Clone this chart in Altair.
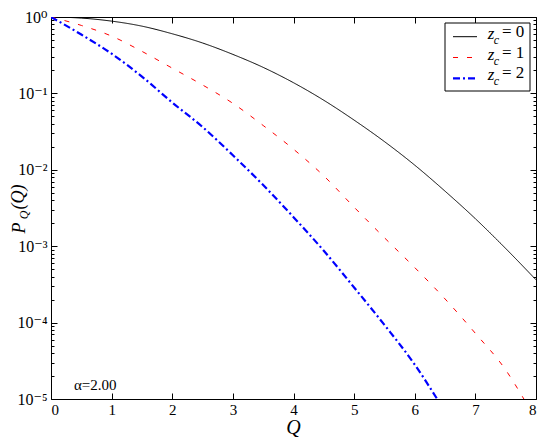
import altair as alt
import pandas as pd

# P_Q(Q), one pair of lists per curve
q_z0 = [0, 0.5, 1, 1.5, 2, 2.5, 3, 3.5, 4, 4.5, 5, 5.5, 6, 6.5, 7, 7.5, 8]
p_z0 = [1.0, 0.968, 0.883, 0.759, 0.603, 0.457, 0.324, 0.219, 0.138, 0.0813,
        0.0447, 0.0234, 0.0115, 0.00525, 0.00229, 0.000933, 0.000363]

q_z1 = [0, 0.5, 1, 1.5, 2, 2.5, 3, 3.5, 4, 4.5, 5, 5.5, 6, 6.5, 7, 7.5, 7.8]
p_z1 = [1.0, 0.776, 0.562, 0.355, 0.214, 0.129, 0.0741, 0.0380, 0.0186, 0.00832,
        0.00324, 0.00129, 0.000525, 0.000204, 0.0000724, 0.0000240, 0.0000100]

q_z2 = [0, 0.5, 1, 1.5, 2, 2.5, 3, 3.5, 4, 4.5, 5, 5.5, 6, 6.37]
p_z2 = [1.0, 0.589, 0.331, 0.166, 0.0759, 0.0363, 0.0155, 0.00631, 0.00240,
        0.000871, 0.000288, 0.0000933, 0.0000282, 0.0000100]

zc_values = ["0", "1", "2"]
series = ["z_c = 0", "z_c = 1", "z_c = 2"]
colors = ["#000000", "#ff0000", "#0000ff"]
dashes = [[1, 0], [5, 9], [7, 3, 2, 3]]
widths = [1, 1, 2.2]

x_ticks = [0, 1, 2, 3, 4, 5, 6, 7, 8]
y_ticks = [1e-5, 1e-4, 1e-3, 1e-2, 1e-1, 1]
y_minor = [k * 10.0 ** -d for d in range(1, 6) for k in range(2, 10)]
alpha_label = "\u03b1=2.00"

frames = []
for name, qs, ps in [(series[0], q_z0, p_z0), (series[1], q_z1, p_z1), (series[2], q_z2, p_z2)]:
    frames.append(pd.DataFrame({"q": qs, "p": ps, "series": name}))
df = pd.concat(frames, ignore_index=True)

W, H = 485, 382
SERIF = "Liberation Serif, Times New Roman, DejaVu Serif, serif"

xs = alt.Scale(domain=[0, 8], nice=False, zero=False)
ys = alt.Scale(type="log", domain=[1e-5, 1], nice=False)

sup_expr = ("'10' + ['\u2070','\u207b\u00b9','\u207b\u00b2','\u207b\u00b3','\u207b\u2074','\u207b\u2075']"
            "[round(-log(datum.value)/LN10)]")

main_x = alt.Axis(values=x_ticks, format="d", ticks=False, domain=False, grid=False,
                  labelFont=SERIF, labelFontSize=15, labelColor="black", labelPadding=3,
                  title=None)
main_y = alt.Axis(values=y_ticks, labelExpr=sup_expr, ticks=False, domain=False, grid=False,
                  labelFont=SERIF, labelFontSize=16, labelColor="black", labelPadding=4,
                  title=None)

curves = []
for i, name in enumerate(series):
    curves.append(alt.Chart(df).transform_filter(alt.datum.series == name).mark_line(
        clip=True, interpolate="monotone", color=colors[i], strokeDash=dashes[i],
        strokeWidth=widths[i]).encode(
        x=alt.X("q:Q", scale=xs, axis=main_x if i == 0 else None),
        y=alt.Y("p:Q", scale=ys, axis=main_y if i == 0 else None),
    ))


def tick_axis(orient, offset, values, size):
    return alt.Axis(orient=orient, offset=offset, values=values, labels=False, domain=False,
                    grid=False, ticks=True, tickSize=size, tickColor="black", tickWidth=1,
                    title=None)


def ghost(x_axis, y_axis):
    return alt.Chart(df).mark_line(opacity=0).encode(
        x=alt.X("q:Q", scale=xs, axis=x_axis),
        y=alt.Y("p:Q", scale=ys, axis=y_axis),
        detail="series:N",
    )


# inward ticks on all four sides (axes pushed across the plot by a negative offset)
ticks_a = ghost(tick_axis("top", -H, x_ticks, 6), tick_axis("right", -W, y_ticks, 6))
ticks_b = ghost(tick_axis("bottom", -H, x_ticks, 6), tick_axis("left", -W, y_ticks, 6))
ticks_c = ghost(None, tick_axis("right", -W, y_minor, 3))
ticks_d = ghost(None, tick_axis("left", -W, y_minor, 3))

one = alt.Data(values=[{"a": 1}])


def label(text, x, y, size, italic=False, angle=0, align="center", baseline="middle"):
    kw = dict(font=SERIF, fontSize=size, align=align, baseline=baseline, color="black", text=text)
    if italic:
        kw["fontStyle"] = "italic"
    if angle:
        kw["angle"] = angle
    return alt.Chart(one).mark_text(**kw).encode(x=alt.value(x), y=alt.value(y))


texts = [
    label(alpha_label, 23, 368, 15, align="left"),
    label("Q", W / 2, H + 35, 20, italic=True, baseline="alphabetic"),
    # y title P_Q(Q), rotated
    label("P", -31, 211, 18, italic=True, angle=270),
    label("Q", -27, 198, 12, italic=True, angle=270),
    label("(Q)", -32, 180, 18, italic=True, angle=270),
]

# legend box drawn by hand so that z_c can carry its subscript
legend = [alt.Chart(one).mark_rect(fill="white", stroke="black", strokeWidth=1).encode(
    x=alt.value(394), x2=alt.value(479), y=alt.value(6), y2=alt.value(74))]
for i, zc in enumerate(zc_values):
    row = 19.7 + 20.8 * i
    legend.append(alt.Chart(one).mark_rule(color=colors[i], strokeDash=dashes[i],
                                           strokeWidth=widths[i]).encode(
        x=alt.value(402), x2=alt.value(426), y=alt.value(row)))
    legend.append(label("z", 440, row - 3, 17, italic=True))
    legend.append(label("c", 445.5, row + 3, 12, italic=True))
    legend.append(label("= " + zc, 451, row - 5, 17, align="left"))

chart = alt.layer(*curves, ticks_a, ticks_b, ticks_c, ticks_d, *texts, *legend).resolve_axis(
    x="independent", y="independent"
).properties(
    width=W, height=H,
    autosize=alt.AutoSizeParams(type="none"),
    padding={"left": 43, "top": 9, "right": 1, "bottom": 40},
).configure_view(stroke="black", strokeWidth=1)

chart.save("out.html", embed_options={"renderer": "svg", "actions": False})
